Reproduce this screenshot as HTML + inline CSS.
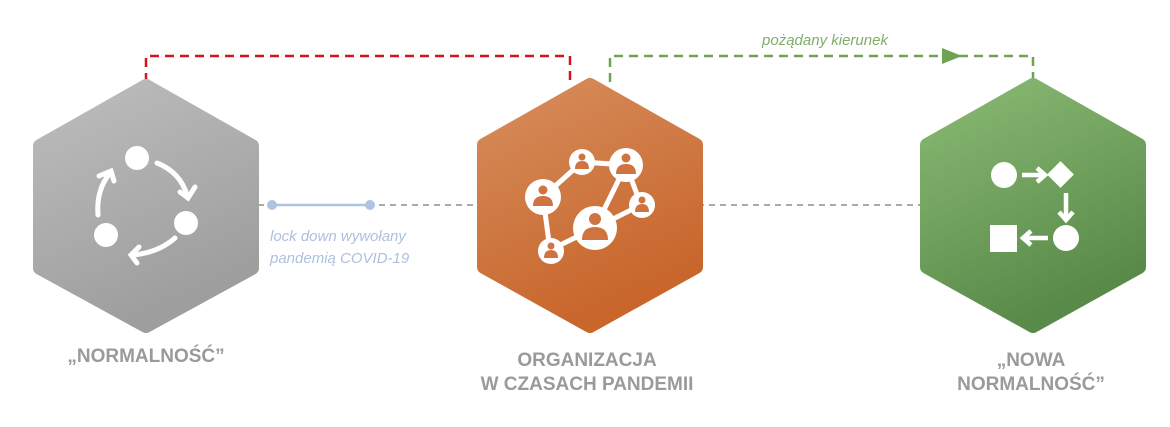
<!DOCTYPE html>
<html><head><meta charset="utf-8"><style>
html,body{margin:0;padding:0;background:#fff;width:1170px;height:427px;overflow:hidden}
svg{display:block}
.lbl{font-family:"Liberation Sans Narrow","Liberation Sans",sans-serif;font-weight:bold;font-size:19px;fill:#9a9a9a;text-anchor:middle}
.it{font-family:"Liberation Sans",sans-serif;font-style:italic;font-size:15px}
</style></head><body>
<svg width="1170" height="427" viewBox="0 0 1170 427">
<defs>
<linearGradient id="gG" x1="0" y1="0" x2="0.4" y2="1"><stop offset="0" stop-color="#bdbdbd"/><stop offset="1" stop-color="#9e9e9e"/></linearGradient>
<linearGradient id="gO" x1="0" y1="0" x2="0.4" y2="1"><stop offset="0" stop-color="#d68d5c"/><stop offset="1" stop-color="#c8662c"/></linearGradient>
<linearGradient id="gN" x1="0" y1="0" x2="0.4" y2="1"><stop offset="0" stop-color="#8abb74"/><stop offset="1" stop-color="#5a8a4a"/></linearGradient>
</defs>
<!-- connectors -->
<polyline points="146,82 146,56 570,56 570,82" fill="none" stroke="#d2141a" stroke-width="2.5" stroke-dasharray="9,6"/>
<polyline points="610,82 610,56 1033,56 1033,82" fill="none" stroke="#6fa352" stroke-width="2.5" stroke-dasharray="9,6"/>
<polygon points="942,48 962,56 942,64" fill="#6fa352"/>
<text x="825" y="45" class="it" fill="#7fae69" text-anchor="middle">pożądany kierunek</text>
<line x1="258" y1="205" x2="921" y2="205" stroke="#777" stroke-width="1.3" stroke-dasharray="6,5"/>
<line x1="272" y1="205" x2="370" y2="205" stroke="#aec2e2" stroke-width="2.5"/>
<circle cx="272" cy="205" r="5" fill="#aec2e2"/><circle cx="370" cy="205" r="5" fill="#aec2e2"/>
<text x="270" y="241" class="it" fill="#aec0de">lock down wywołany</text>
<text x="270" y="263" class="it" fill="#aec0de">pandemią COVID-19</text>
<!-- hexes -->
<g stroke-linejoin="round" stroke-width="14">
<polygon points="146,86 252,146 252,268 146,326 40,268 40,146" fill="url(#gG)" stroke="url(#gG)"/>
<polygon points="590,85 696,145 696,267 590,326 484,267 484,145" fill="url(#gO)" stroke="url(#gO)"/>
<polygon points="1033,85 1139,145 1139,267 1033,326 927,267 927,145" fill="url(#gN)" stroke="url(#gN)"/>
</g>
<!-- icon 1 -->
<g fill="#fff" stroke="#fff">
<circle cx="137" cy="158" r="12" stroke="none"/>
<circle cx="186" cy="223" r="12" stroke="none"/>
<circle cx="106" cy="235" r="12" stroke="none"/>
<g fill="none" stroke-width="5" stroke-linecap="round">
<path d="M157,163 Q180,172 187,195"/><path d="M180,192 L188,198 L195,187"/>
<path d="M175,238 Q158,253 132,255"/><path d="M139,247 L131,255 L137,263"/>
<path d="M98,215 Q96,190 110,173"/><path d="M99,176 L111,171 L114,181"/>
</g>
</g>
<!-- icon 2 network -->
<g stroke="#fff" stroke-width="5" fill="none">
<path d="M543,197 L582,162 L626,165 L641,205 L595,228 L550,250 L543,197 M626,165 L595,228"/>
</g>
<g fill="#fff">
<circle cx="543" cy="197" r="18"/><circle cx="582" cy="162" r="13"/><circle cx="626" cy="165" r="17"/>
<circle cx="642" cy="205" r="13"/><circle cx="595" cy="228" r="22"/><circle cx="551" cy="251" r="13"/>
</g>
<g fill="#cf7440">
<circle cx="543" cy="190" r="4.5"/><path d="M533,206 Q533,196 543,196 Q553,196 553,206Z"/>
<circle cx="582" cy="157" r="3.5"/><path d="M575,169 Q575,161 582,161 Q589,161 589,169Z"/>
<circle cx="626" cy="158" r="4.5"/><path d="M616,174 Q616,164 626,164 Q636,164 636,174Z"/>
<circle cx="642" cy="200" r="3.5"/><path d="M635,212 Q635,204 642,204 Q649,204 649,212Z"/>
<circle cx="595" cy="219" r="6"/><path d="M582,240 Q582,227 595,227 Q608,227 608,240Z"/>
<circle cx="551" cy="246" r="3.5"/><path d="M544,258 Q544,250 551,250 Q558,250 558,258Z"/>
</g>
<!-- icon 3 -->
<g fill="#fff">
<circle cx="1004" cy="175" r="13"/>
<rect x="1051" y="165" width="19" height="19" transform="rotate(45 1060.5 174.5)"/>
<circle cx="1066" cy="238" r="13"/>
<rect x="990" y="225" width="27" height="27"/>
</g>
<g stroke="#fff" stroke-width="4.5" fill="none">
<path d="M1022,175 L1044,175 M1037,168 L1045,175 L1037,182"/>
<path d="M1066,193 L1066,219 M1059,212 L1066,220 L1073,212"/>
<path d="M1048,238 L1024,238 M1031,231 L1023,238 L1031,245"/>
</g>
<!-- labels -->
<text x="146" y="362" class="lbl">„NORMALNOŚĆ”</text>
<text x="587" y="366" class="lbl">ORGANIZACJA</text>
<text x="587" y="390" class="lbl">W CZASACH PANDEMII</text>
<text x="1031" y="366" class="lbl">„NOWA</text>
<text x="1031" y="390" class="lbl">NORMALNOŚĆ”</text>
</svg>
</body></html>
